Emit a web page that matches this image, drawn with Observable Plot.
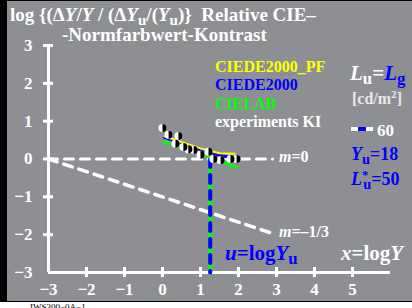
<!DOCTYPE html>
<html><head><meta charset="utf-8">
<script src="https://cdn.jsdelivr.net/npm/d3@7"></script>
<script src="https://cdn.jsdelivr.net/npm/@observablehq/plot@0.6"></script>
<style>
body{margin:0;background:#fff;}
#wrap{position:relative;width:412px;height:308px;background:#fff;overflow:hidden;font-family:"Liberation Serif","Times New Roman",serif;font-weight:bold;}
.t{position:absolute;white-space:nowrap;line-height:1;}
sub{font-size:0.8em;vertical-align:-0.25em;line-height:0}
sup{font-size:0.7em;vertical-align:0.5em;line-height:0}
</style>
</head><body>
<div id="wrap">
  <div style="position:absolute;left:0;top:0;width:412px;height:302px;background:#000"></div>
  <div style="position:absolute;left:7px;top:1px;width:405px;height:300px;background:#8e8f93"></div>
  <div id="chart" style="position:absolute;left:0;top:0"></div>
  <div class="t" style="left:10px;top:5px;font-size:19px;color:#fff">log {(Δ<i>Y</i>/<i>Y</i> / (Δ<i>Y</i><sub>u</sub>/(<i>Y</i><sub>u</sub>)}&nbsp; Relative CIE–</div>
  <div class="t" style="left:62px;top:25px;font-size:19px;color:#fff">-Normfarbwert-Kontrast</div>
  <div class="t" style="left:215px;top:59px;font-size:16px;color:#ffff00">CIEDE2000_PF</div>
  <div class="t" style="left:215px;top:77px;font-size:16px;color:#0000ff">CIEDE2000</div>
  <div class="t" style="left:215px;top:96px;font-size:16px;color:#00ff00">CIELAB</div>
  <div class="t" style="left:215px;top:114px;font-size:16px;color:#fff">experiments KI</div>
  <div class="t" style="left:350px;top:63px;font-size:21px;color:#fff"><i>L</i><sub>u</sub>=<span style="color:#0000ff"><i>L</i><sub>g</sub></span></div>
  <div class="t" style="left:352px;top:91px;font-size:16px;color:#e8e8e8">[cd/m<sup>2</sup>]</div>
  <div class="t" style="left:351px;top:127px;width:22px;height:4px;background:#fff"><div style="position:absolute;left:7px;top:0;width:8px;height:4px;background:#0000ff"></div></div>
  <div class="t" style="left:377px;top:122px;font-size:17px;color:#fff">60</div>
  <div class="t" style="left:351px;top:145px;font-size:18px;color:#0000ff"><i>Y</i><sub>u</sub>=18</div>
  <div class="t" style="left:351px;top:170px;font-size:18px;color:#0000ff"><i>L</i><sup>*</sup><sub style="margin-left:-0.35em">u</sub>=50</div>
  <div class="t" style="left:279px;top:149px;font-size:16px;color:#fff"><i>m</i>=0</div>
  <div class="t" style="left:279px;top:224px;font-size:16px;color:#fff"><i>m</i>=–1/3</div>
  <div class="t" style="left:225px;top:243px;font-size:21px;color:#0000ff"><i>u</i>=log<i>Y</i><sub>u</sub></div>
  <div class="t" style="left:341px;top:243px;font-size:21px;color:#fff"><i>x</i>=log<i>Y</i></div>
  <div class="t" style="left:30px;top:303px;font-size:9px;font-weight:normal;color:#000">IWS300−0A−1</div>
</div>
<script>
// tick values
const xTicks = [-3, -2, -1, 0, 1, 2, 3, 4, 5];
const yTicks = [-3, -2, -1, 0, 1, 2, 3];
// experiments KI (x = log Y, y = log relative contrast)
const expX = [0.0, 0.16, 0.42, 0.34, 0.55, 0.68, 0.82, 1.0, 1.21, 1.34, 1.53, 1.79, 1.95];
const expY = [0.82, 0.64, 0.61, 0.40, 0.32, 0.26, 0.24, 0.11, 0.19, 0.0, -0.03, 0.0, 0.0];
// model curves
const pfX = [0.05, 0.5, 1.0, 1.5, 1.9];
const pfY = [0.60, 0.45, 0.28, 0.15, 0.14];
const deX = [0.05, 0.5, 1.0, 1.5, 1.97];
const deY = [0.57, 0.42, 0.25, 0.10, 0.0];
const labX = [0.03, 0.9, 1.95];
const labY = [0.45, 0.19, -0.22];
// reference lines: slope m from x = -3
const m0X = [-3, 2.9];
const m0Y = [0, 0];
const m3X = [-3, 2.87];
const m3Y = [0, -1.96];
// adaptation u = log Yu, Yu = 18
const uX = [Math.log10(18), Math.log10(18)];
const uY = [0, -3];

const pts = (xs, ys) => xs.map((x, i) => ({x, y: ys[i]}));
const halfRight = {draw(ctx, size){const r = Math.sqrt(size/Math.PI); ctx.moveTo(0,-r); ctx.arc(0,0,r,-Math.PI/2,Math.PI/2); ctx.closePath();}};
const fmt = d => d < 0 ? "−" + (-d) : String(d);

const chart = Plot.plot({
  width: 412, height: 308,
  marginLeft: 48, marginRight: 22, marginTop: 45, marginBottom: 36,
  x: {domain: [-3, 6]},
  y: {domain: [-3, 3]},
  style: {background: "transparent", color: "#fff", fontFamily: "'Liberation Serif', serif", fontWeight: "bold", fontSize: "17px"},
  marks: [
    Plot.ruleY([-3], {stroke: "#fff", strokeWidth: 3}),
    Plot.ruleX([-3], {stroke: "#fff", strokeWidth: 3}),
    Plot.ruleX(xTicks.slice(1), {x: d => d, y1: -3, y2: -3, insetTop: -5, insetBottom: -5, stroke: "#fff", strokeWidth: 3}),
    Plot.ruleY(yTicks.slice(1), {y: d => d, x1: -3, x2: -3, insetLeft: -5, insetRight: -5, stroke: "#fff", strokeWidth: 3}),
    Plot.axisX({ticks: xTicks, tickSize: 0, tickPadding: 10, tickFormat: fmt, label: null}),
    Plot.axisY({ticks: yTicks, tickSize: 0, tickPadding: 16, tickFormat: fmt, label: null}),
    Plot.line(pts(m0X, m0Y), {x: "x", y: "y", stroke: "#fff", strokeWidth: 3, strokeDasharray: "9,7"}),
    Plot.line(pts(m3X, m3Y), {x: "x", y: "y", stroke: "#fff", strokeWidth: 3.5, strokeDasharray: "9,7"}),
    Plot.line(pts(uX, uY), {x: "x", y: "y", stroke: "#00ff00", strokeWidth: 4}),
    Plot.line(pts(uX, uY), {x: "x", y: "y", stroke: "#0000ff", strokeWidth: 4, strokeDasharray: "8,8"}),
    Plot.line(pts(labX, labY), {x: "x", y: "y", stroke: "#00ff00", strokeWidth: 3}),
    Plot.line(pts(deX, deY), {x: "x", y: "y", stroke: "#0000ff", strokeWidth: 3}),
    Plot.line(pts(pfX, pfY), {x: "x", y: "y", stroke: "#ffff00", strokeWidth: 2}),
    Plot.dot(pts(expX, expY), {x: "x", y: "y", r: 4, fill: "#fff", stroke: "none"}),
    Plot.dot(pts(expX, expY), {x: "x", y: "y", r: 4, fill: "#000", stroke: "none", symbol: halfRight})
  ]
});
document.getElementById("chart").appendChild(chart);
</script>
</body></html>
